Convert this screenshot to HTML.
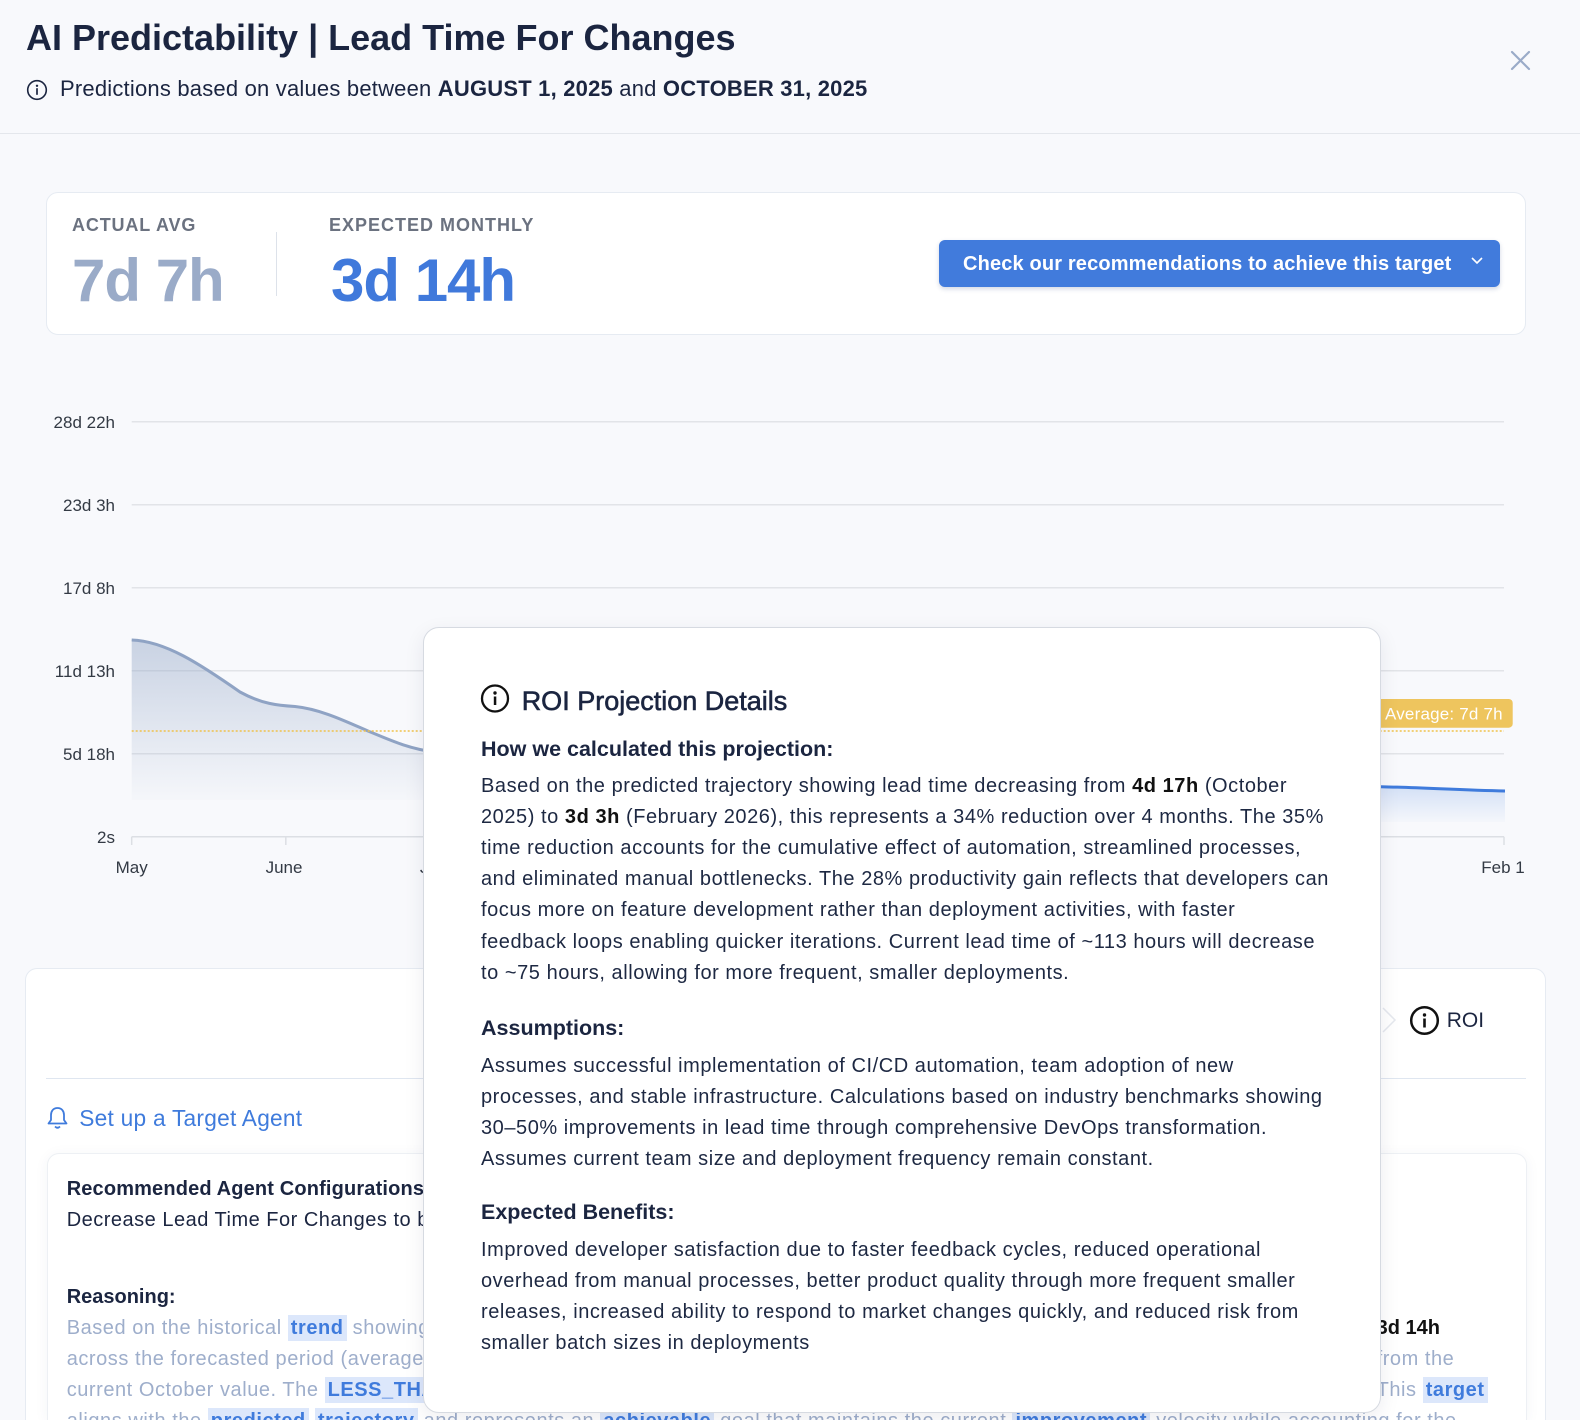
<!DOCTYPE html>
<html><head><meta charset="utf-8">
<style>
*{margin:0;padding:0;box-sizing:border-box}
html,body{width:1580px;height:1420px;overflow:hidden;background:#f8f9fc;font-family:"Liberation Sans",sans-serif;color:#1b2540}
#wrap{position:relative;width:1580px;height:1420px;overflow:hidden;background:#f8f9fc}
.abs{position:absolute;white-space:nowrap}
.hl{background:#dce7fb;color:#3f7bdc;font-weight:700;padding:2px 3px}
.pb{font-size:20px;line-height:31.2px;letter-spacing:0.55px;color:#1d2842}
.pb b{color:#111;font-weight:700}
.ph{font-size:21.5px;line-height:30px;font-weight:700;color:#1b2540}
.rs{font-size:20px;line-height:31px;letter-spacing:0.55px;color:#9eaecb}
</style></head><body>
<div id="wrap">

<!-- header -->
<div class="abs" style="left:0;top:0;width:1580px;height:134px;border-bottom:1px solid #e4e7ec"></div>
<div class="abs" style="left:26px;top:15.5px;font-size:36px;line-height:44px;font-weight:700;color:#1b2540">AI Predictability | Lead Time For Changes</div>
<svg class="abs" style="left:26px;top:79px" width="22" height="22"><circle cx="11" cy="11" r="9.3" fill="none" stroke="#1b2540" stroke-width="1.6"/><circle cx="11" cy="6.8" r="1.2" fill="#1b2540"/><rect x="10.15" y="9.2" width="1.7" height="6.6" fill="#1b2540"/></svg>
<div class="abs" style="left:60px;top:74px;font-size:22px;line-height:30px;letter-spacing:0.2px;color:#1b2540">Predictions based on values between <b>AUGUST 1, 2025</b> and <b>OCTOBER 31, 2025</b></div>
<svg class="abs" style="left:1510px;top:50px" width="21" height="21"><path d="M2 2 L19 19 M19 2 L2 19" stroke="#9aabc8" stroke-width="2.2" stroke-linecap="round"/></svg>

<!-- top card -->
<div class="abs" style="left:45.5px;top:191.5px;width:1480px;height:143px;background:#fff;border:1px solid #e6ebf2;border-radius:12px"></div>
<div class="abs" style="left:72px;top:212.8px;font-size:18px;line-height:24px;font-weight:700;letter-spacing:0.85px;color:#6b7280">ACTUAL AVG</div>
<div class="abs" style="left:72px;top:245.9px;font-size:60px;line-height:70px;font-weight:700;letter-spacing:-1px;color:#9aabc8">7d 7h</div>
<div class="abs" style="left:276px;top:232px;width:1px;height:64px;background:#dde2ea"></div>
<div class="abs" style="left:329px;top:212.8px;font-size:18px;line-height:24px;font-weight:700;letter-spacing:1px;color:#6b7280">EXPECTED MONTHLY</div>
<div class="abs" style="left:331px;top:245.9px;font-size:60px;line-height:70px;font-weight:700;letter-spacing:-1px;color:#4079db">3d 14h</div>
<div class="abs" style="left:939px;top:240px;width:561px;height:46.7px;background:#417bdc;border-radius:6px;box-shadow:0 2px 5px rgba(30,60,120,0.2)"></div>
<div class="abs" style="left:963px;top:251.8px;font-size:20px;line-height:24px;font-weight:700;letter-spacing:0.15px;color:#fff">Check our recommendations to achieve this target</div>
<svg class="abs" style="left:1470px;top:256px" width="14" height="10"><polyline points="2,2 7,7 12,2" fill="none" stroke="#fff" stroke-width="1.6"/></svg>

<!-- chart -->
<svg class="abs" style="left:0;top:380px" width="1580" height="520" viewBox="0 380 1580 520">
<defs>
<linearGradient id="gh" x1="0" y1="640" x2="0" y2="800" gradientUnits="userSpaceOnUse">
<stop offset="0" stop-color="#8fa3c4" stop-opacity="0.45"/>
<stop offset="1" stop-color="#8fa3c4" stop-opacity="0.03"/>
</linearGradient>
<linearGradient id="gf" x1="0" y1="786" x2="0" y2="822" gradientUnits="userSpaceOnUse">
<stop offset="0" stop-color="#3f7bdc" stop-opacity="0.2"/>
<stop offset="1" stop-color="#3f7bdc" stop-opacity="0.02"/>
</linearGradient>
</defs>
<g stroke="#e2e4e8" stroke-width="1.5">
<line x1="131.7" y1="421.7" x2="1504" y2="421.7"/>
<line x1="131.7" y1="504.7" x2="1504" y2="504.7"/>
<line x1="131.7" y1="587.7" x2="1504" y2="587.7"/>
<line x1="131.7" y1="670.7" x2="1504" y2="670.7"/>
<line x1="131.7" y1="753.7" x2="1504" y2="753.7"/>
</g>
<line x1="131.7" y1="836.7" x2="1504" y2="836.7" stroke="#dcdfe4" stroke-width="1.5"/>
<g stroke="#dcdfe4" stroke-width="1.5">
<line x1="131.7" y1="836.7" x2="131.7" y2="845"/>
<line x1="285.8" y1="836.7" x2="285.8" y2="845"/>
<line x1="435" y1="836.7" x2="435" y2="845"/>
<line x1="1504" y1="836.7" x2="1504" y2="845"/>
</g>
<g font-family="Liberation Sans, sans-serif" font-size="17" fill="#333a44" text-anchor="end">
<text x="115" y="428">28d 22h</text>
<text x="115" y="511">23d 3h</text>
<text x="115" y="594">17d 8h</text>
<text x="115" y="677">11d 13h</text>
<text x="115" y="760">5d 18h</text>
<text x="115" y="843">2s</text>
</g>
<g font-family="Liberation Sans, sans-serif" font-size="17" fill="#333a44" text-anchor="middle">
<text x="131.7" y="873">May</text>
<text x="284" y="873">June</text>
<text x="435" y="873">July</text>
<text x="1503" y="873">Feb 1</text>
</g>
<path d="M131.7,640 C165,641 200,664 240,692 C262,704 278,705.5 295,706.5 C320,709 345,721 368,731 C392,741 410,749 435,752 C600,762 900,776 1100,782 L1100,800 L131.7,800 Z" fill="url(#gh)"/>
<path d="M131.7,640 C165,641 200,664 240,692 C262,704 278,705.5 295,706.5 C320,709 345,721 368,731 C392,741 410,749 435,752 C600,762 900,776 1100,782" fill="none" stroke="#8fa3c4" stroke-width="3"/>
<path d="M1381,786.7 C1420,787.5 1460,790 1505,791 L1505,822 L1381,822 Z" fill="url(#gf)"/>
<path d="M1381,786.7 C1420,787.5 1460,790 1505,791" fill="none" stroke="#3f7bdc" stroke-width="3"/>
<line x1="131.7" y1="731" x2="1504" y2="731" stroke="#f0c24b" stroke-width="1.5" stroke-dasharray="2,2"/>
<rect x="1376" y="699" width="136.7" height="28.7" rx="4" fill="#eec55e"/>
<text x="1385" y="719.5" font-family="Liberation Sans, sans-serif" font-size="17" letter-spacing="0.2" fill="#fff">Average: 7d 7h</text>
</svg>

<!-- bottom card -->
<div class="abs" style="left:25px;top:968px;width:1521px;height:452px;background:#fff;border:1px solid #e6ebf2;border-bottom:none;border-radius:12px 12px 0 0"></div>
<div class="abs" style="left:46px;top:1078px;width:1480px;height:1px;background:#dfe6f0"></div>
<svg class="abs" style="left:1380px;top:1005px" width="20" height="30"><polyline points="3,3 15,15 3,27" fill="none" stroke="#e5e8ee" stroke-width="1.5"/></svg>
<svg class="abs" style="left:1409px;top:1005px" width="32" height="32"><circle cx="15.5" cy="15.5" r="13.3" fill="none" stroke="#111" stroke-width="2.5"/><circle cx="15.5" cy="10" r="1.7" fill="#111"/><rect x="14.2" y="13.5" width="2.6" height="9" fill="#111"/></svg>
<div class="abs" style="left:1446.7px;top:1007.7px;font-size:21px;line-height:26px;color:#1b2540">ROI</div>
<svg class="abs" style="left:46px;top:1105px" width="23" height="25"><path d="M11.5 3 C7 3 5 6.5 5 10 L5 15 L2.5 18.5 L20.5 18.5 L18 15 L18 10 C18 6.5 16 3 11.5 3 Z" fill="none" stroke="#3f7bdc" stroke-width="1.8" stroke-linejoin="round"/><path d="M9 21.5 Q11.5 24 14 21.5" fill="none" stroke="#3f7bdc" stroke-width="1.8"/></svg>
<div class="abs" style="left:79.3px;top:1104.1px;font-size:22.7px;line-height:28px;letter-spacing:0.25px;color:#3f7bdc">Set up a Target Agent</div>
<div class="abs" style="left:46.5px;top:1153px;width:1480px;height:267px;background:#fff;border:1px solid #edf0f4;border-bottom:none;border-radius:12px 12px 0 0;box-shadow:0 2px 14px rgba(30,50,90,0.05)"></div>
<div class="abs" style="left:66.7px;top:1176px;font-size:20px;line-height:26px;font-weight:700;letter-spacing:0.15px;color:#1b2540">Recommended Agent Configurations</div>
<div class="abs" style="left:66.7px;top:1206.8px;font-size:20px;line-height:26px;letter-spacing:0.5px;color:#1b2540">Decrease Lead Time For Changes to be less than 3d 14h</div>
<div class="abs" style="left:66.7px;top:1284px;font-size:20px;line-height:26px;font-weight:700;color:#1b2540">Reasoning:</div>
<div class="abs rs" style="left:66.7px;top:1313.3px;width:360px;overflow:hidden">Based on the historical <span class="hl">trend</span> showing a consistent decrease<br>across the forecasted period (average reduction<br>current October value. The <span class="hl">LESS_THAN</span> target type</div>
<div class="abs rs" style="left:1376.6px;top:1313.3px"><b style="color:#111;letter-spacing:0">3d 14h</b><br>from the<br>This <span class="hl">target</span></div>
<div class="abs" style="left:0;top:1398px;width:1580px;height:22px;overflow:hidden">
<div class="abs rs" style="left:66.7px;top:8.3px">aligns with the <span class="hl">predicted</span> <span class="hl">trajectory</span> and represents an <span class="hl">achievable</span> goal that maintains the current <span class="hl">improvement</span> velocity while accounting for the</div>
</div>

<!-- popover -->
<div class="abs" style="left:422.7px;top:627px;width:958.3px;height:786px;background:#fff;border:1px solid #d6dae1;border-radius:16px;box-shadow:0 6px 20px rgba(20,30,60,0.08)"></div>
<svg class="abs" style="left:480px;top:684px" width="30" height="30"><circle cx="15" cy="14.5" r="13" fill="none" stroke="#111" stroke-width="2.3"/><circle cx="15" cy="9" r="1.7" fill="#111"/><rect x="13.8" y="12.5" width="2.5" height="8.5" fill="#111"/></svg>
<div class="abs" style="left:521.7px;top:683.6px;font-size:27px;line-height:34px;color:#1b2540;-webkit-text-stroke:0.6px #1b2540">ROI Projection Details</div>
<div class="abs ph" style="left:481px;top:734px">How we calculated this projection:</div>
<div class="abs pb" style="left:481px;top:770.5px">Based on the predicted trajectory showing lead time decreasing from <b>4d 17h</b> (October<br>2025) to <b>3d 3h</b> (February 2026), this represents a 34% reduction over 4 months. The 35%<br>time reduction accounts for the cumulative effect of automation, streamlined processes,<br>and eliminated manual bottlenecks. The 28% productivity gain reflects that developers can<br>focus more on feature development rather than deployment activities, with faster<br>feedback loops enabling quicker iterations. Current lead time of ~113 hours will decrease<br>to ~75 hours, allowing for more frequent, smaller deployments.</div>
<div class="abs ph" style="left:481px;top:1013.4px">Assumptions:</div>
<div class="abs pb" style="left:481px;top:1050.5px">Assumes successful implementation of CI/CD automation, team adoption of new<br>processes, and stable infrastructure. Calculations based on industry benchmarks showing<br>30–50% improvements in lead time through comprehensive DevOps transformation.<br>Assumes current team size and deployment frequency remain constant.</div>
<div class="abs ph" style="left:481px;top:1197.4px">Expected Benefits:</div>
<div class="abs pb" style="left:481px;top:1234.5px">Improved developer satisfaction due to faster feedback cycles, reduced operational<br>overhead from manual processes, better product quality through more frequent smaller<br>releases, increased ability to respond to market changes quickly, and reduced risk from<br>smaller batch sizes in deployments</div>

</div>
</body></html>
